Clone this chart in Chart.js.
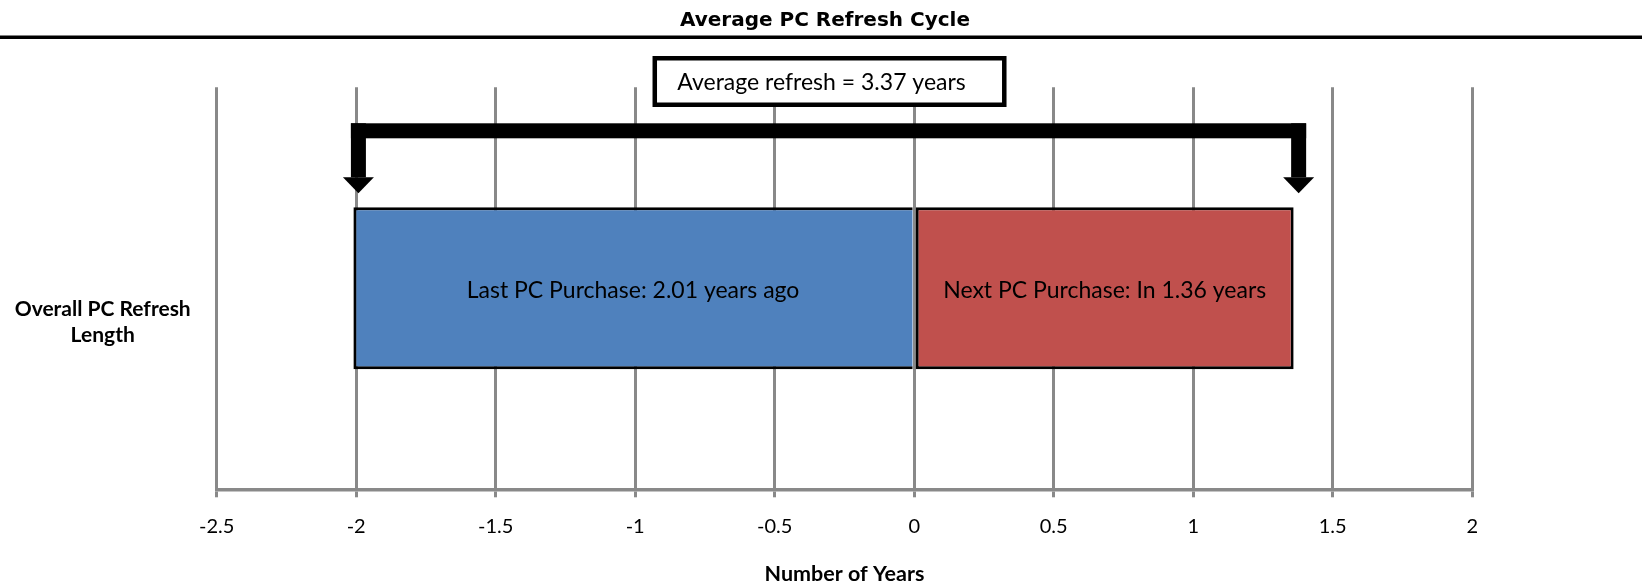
<!DOCTYPE html>
<html>
<head>
<meta charset="utf-8">
<script src="https://cdn.jsdelivr.net/npm/chart.js@4.4.0/dist/chart.umd.min.js"></script>
<style>
  html, body { margin: 0; padding: 0; background: #fff; }
  #wrap { width: 1642px; height: 582px; }
</style>
</head>
<body>
<div id="wrap"><canvas id="refresh-chart" width="1642" height="582"></canvas></div>
<script>
// chart data
const categories = [['Overall PC Refresh', 'Length']];
const lastPurchase = [-2.01];
const nextPurchase = [1.36];
const xTicks = [-2.5, -2, -1.5, -1, -0.5, 0, 0.5, 1, 1.5, 2];
const chartTitle = 'Average PC Refresh Cycle';

const gridGray = '#898989';
const bodyFont = 'Lato';

// draws the title with its rule, the labels in the bars and the bracket with the average box
const refreshAnnotations = {
  id: 'refreshAnnotations',
  afterDraw(chart) {
    const ctx = chart.ctx;
    const xScale = chart.scales.x;
    const area = chart.chartArea;
    const lastBar = chart.getDatasetMeta(0).data[0];
    const nextBar = chart.getDatasetMeta(1).data[0];

    ctx.save();
    ctx.fillStyle = '#000';
    ctx.textAlign = 'center';
    ctx.textBaseline = 'middle';
    ctx.font = 'bold 20px "DejaVu Sans"';
    ctx.fillText(chartTitle, chart.width / 2 + 4, 21);
    ctx.fillRect(0, 35.5, chart.width, 3.5);

    // bar labels
    ctx.font = '23px ' + bodyFont;
    ctx.fillText('Last PC Purchase: ' + Math.abs(lastPurchase[0]).toFixed(2) + ' years ago',
      (lastBar.x + lastBar.base) / 2, lastBar.y + 2);
    ctx.fillText('Next PC Purchase: In ' + nextPurchase[0].toFixed(2) + ' years',
      (nextBar.x + nextBar.base) / 2, nextBar.y + 2);

    // bracket
    const xL = xScale.getPixelForValue(lastPurchase[0]) + 5;
    const xR = xScale.getPixelForValue(nextPurchase[0]) + 5;
    const barTop = lastBar.y - lastBar.height / 2;
    const armW = 15, headW = 31, headH = 16;
    const topY = area.top + 36;
    const tipY = barTop - 14;
    ctx.fillRect(xL - armW / 2, topY, xR - xL + armW, armW);
    [xL, xR].forEach((xc) => {
      ctx.fillRect(xc - armW / 2, topY, armW, tipY - headH - topY);
      ctx.beginPath();
      ctx.moveTo(xc - headW / 2, tipY - headH);
      ctx.lineTo(xc + headW / 2, tipY - headH);
      ctx.lineTo(xc, tipY);
      ctx.closePath();
      ctx.fill();
    });

    // average box
    const avg = nextPurchase[0] - lastPurchase[0];
    const boxW = 354, boxH = 51;
    const boxX = (xL + xR) / 2 - boxW / 2 + 1;
    const boxY = area.top - 31.3;
    ctx.fillStyle = '#fff';
    ctx.fillRect(boxX, boxY, boxW, boxH);
    ctx.lineWidth = 4.5;
    ctx.strokeStyle = '#000';
    ctx.strokeRect(boxX + 2.25, boxY + 2.25, boxW - 4.5, boxH - 4.5);
    ctx.fillStyle = '#000';
    ctx.fillText('Average refresh = ' + avg.toFixed(2) + ' years', boxX + boxW / 2 - 8, boxY + boxH / 2 + 1);
    ctx.restore();
  }
};

const chart = new Chart(document.getElementById('refresh-chart'), {
  type: 'bar',
  data: {
    labels: categories,
    datasets: [{
      label: 'Last PC Purchase',
      data: lastPurchase,
      backgroundColor: '#4F81BD',
      borderColor: '#000',
      borderWidth: 3,
      borderSkipped: 'left'
    }, {
      label: 'Next PC Purchase',
      data: nextPurchase,
      backgroundColor: '#C0504D',
      borderColor: '#000',
      borderWidth: 3,
      borderSkipped: false
    }]
  },
  options: {
    indexAxis: 'y',
    responsive: false,
    animation: false,
    barPercentage: 0.403,
    categoryPercentage: 1,
    layout: { padding: { left: 0, right: 169.8, top: 87.3, bottom: 0 } },
    plugins: {
      legend: { display: false },
      tooltip: { enabled: false },
      title: { display: false }
    },
    scales: {
      x: {
        stacked: true,
        min: -2.5,
        max: 2,
        afterBuildTicks: (scale) => { scale.ticks = xTicks.map((v) => ({ value: v })); },
        afterFit: (scale) => { scale.height = 92.7; },
        grid: { color: gridGray, lineWidth: 3, tickLength: 8, tickColor: gridGray },
        border: { color: gridGray, width: 3.5 },
        ticks: {
          color: '#000',
          padding: 17,
          maxRotation: 0,
          font: { family: bodyFont, size: 20 },
          callback: (v) => String(v)
        },
        title: {
          display: true,
          text: 'Number of Years',
          color: '#000',
          font: { family: bodyFont, size: 21.5, weight: 'bold', lineHeight: 0.7 },
          padding: { top: 0, bottom: 0 }
        }
      },
      y: {
        stacked: true,
        afterFit: (scale) => { scale.width = 216.7; },
        grid: { display: false, drawTicks: false },
        border: { display: false },
        ticks: {
          color: '#000',
          crossAlign: 'center',
          padding: 26,
          labelOffset: 34,
          font: { family: bodyFont, size: 21, weight: 'bold', lineHeight: 1.22 }
        }
      }
    }
  },
  plugins: [refreshAnnotations]
});
</script>
</body>
</html>
